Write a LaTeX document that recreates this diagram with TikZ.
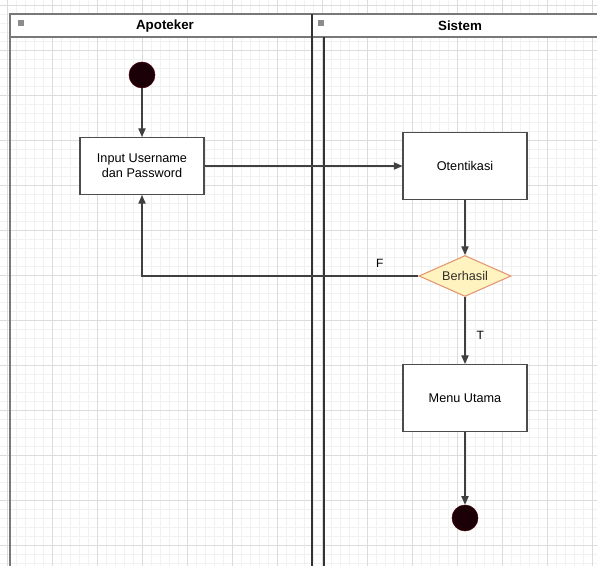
\documentclass[tikz,border=0pt]{standalone}
\usepackage{fontspec}
\setmainfont{Liberation Sans}
\usetikzlibrary{shapes.geometric, arrows.meta}
\usetikzlibrary{positioning}

\definecolor{gridmin}{RGB}{241,241,241}
\definecolor{gridmaj}{RGB}{220,220,220}
\definecolor{lanegray}{RGB}{120,120,120}
\definecolor{decfill}{RGB}{255,243,192}
\definecolor{decline}{RGB}{228,150,112}
\definecolor{dotfill}{RGB}{28,0,8}

\tikzset{
  actbox/.style={draw=black!70, fill=white, line width=0.8pt, minimum width=93pt,
    align=center, font=\fontsize{9.5}{11.5}\selectfont},
  decision/.style={diamond, aspect=2.5, draw=decline, fill=decfill, line width=0.8pt, inner sep=0pt,
    minimum width=69pt, minimum height=30.75pt, text=black!85!olive,
    font=\fontsize{9.5}{11.5}\selectfont},
  dot/.style={circle, fill=dotfill, draw=dotfill!80!red, minimum size=19.5pt, inner sep=0pt},
  flow/.style={draw=black!75, line width=0.8pt, -{Triangle[length=6.5pt,width=5.5pt]}},
  lanetitle/.style={font=\bfseries\fontsize{10}{12}\selectfont},
  lanelogo/.style={fill=black!45, minimum width=5pt, minimum height=4.5pt, inner sep=0pt},
  edgelabel/.style={font=\fontsize{9}{11}\selectfont}
}

\begin{document}
\begin{tikzpicture}[x=0.75pt,y=0.75pt,yscale=-1,xscale=1]
  \useasboundingbox (0,0) rectangle (597,566);
  \fill[white] (0,0) rectangle (597,566);

  % grid
  \foreach \gx in {7,16,...,597} \draw[gridmin, line width=0.4pt] (\gx,0) -- (\gx,566);
  \foreach \gy in {5,14,...,566} \draw[gridmin, line width=0.4pt] (0,\gy) -- (597,\gy);
  \foreach \gx in {7,52,...,597} \draw[gridmaj, line width=0.6pt] (\gx,0) -- (\gx,566);
  \foreach \gy in {5,50,...,566} \draw[gridmaj, line width=0.6pt] (0,\gy) -- (597,\gy);

  % swimlanes
  \draw[lanegray, line width=1.1pt, fill=white] (10,14) rectangle (598,37);
  \draw[lanegray, line width=1.1pt] (10,37) -- (10,567);
  \draw[black!80, line width=1pt] (312,14) -- (312,567);
  \draw[black!80, line width=1pt] (324,37) -- (324,567);
  \node[lanelogo] (logoa) at (21,23) {};
  \node[lanelogo] (logob) at (321,23) {};
  \node[lanetitle] (apoteker) at (165,26) {Apoteker};
  \node[lanetitle] (sistem) at (460,26) {Sistem};

  % activities
  \node[dot] (start) at (142,75) {};
  \node[actbox, minimum height=42.75pt] (input) at (142,166) {Input Username\\dan Password};
  \node[actbox, minimum height=50.25pt] (otent) at (465,166) {Otentikasi};
  \node[decision] (cek) at (465,276) {Berhasil};
  \node[actbox, minimum height=50.25pt] (menu) at (465,398) {Menu Utama};
  \node[dot] (stop) at (465,518) {};

  \draw[flow] (start) -- (input);
  \draw[flow] (input) -- (otent);
  \draw[flow] (otent) -- (cek);
  \draw[flow] (cek.west) -| (input.south) node[edgelabel, pos=0.07, above=3pt] {F};
  \draw[flow] (cek) -- (menu) node[edgelabel, pos=0.57, right=5pt] {T};
  \draw[flow] (menu) -- (stop);
\end{tikzpicture}
\end{document}
